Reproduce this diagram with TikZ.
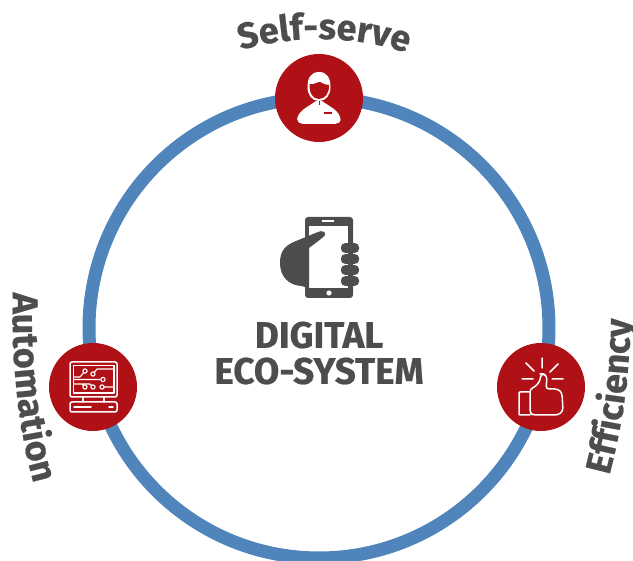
\documentclass[tikz,border=0pt]{standalone}
\usepackage{fontspec}
\usetikzlibrary{decorations.text}
\setmainfont{Fira Sans}[BoldFeatures={FakeBold=0.6}]
\definecolor{ringblue}{HTML}{4F85BA}
\definecolor{hubred}{HTML}{B01116}
\definecolor{darkgrey}{HTML}{4D4D4D}
\newcommand{\arclabel}{\bfseries\fontsize{36}{38}\selectfont\color{darkgrey}}
\tikzset{
  ring/.style={circle,draw=ringblue,line width=13pt,minimum size=460pt,inner sep=0pt},
  hub/.style={circle,fill=hubred,minimum size=88pt,inner sep=0pt},
  title/.style={align=center,text=darkgrey,font=\bfseries\fontsize{37}{36}\selectfont,inner sep=0pt},
  icon/.style={draw=white,line width=1.5pt,line cap=round,line join=round},
  pad/.style={circle,draw=white,fill=hubred,line width=1.1pt,inner sep=1.5pt},
}
\begin{document}
\begin{tikzpicture}[x=1pt,y=-1pt]
\useasboundingbox (0,0) rectangle (633,561);
\node[ring] (loop) at (319,328) {};
\node[hub] (selfserve) at (319,98) {};
\node[hub] (automation) at (93,387) {};
\node[hub] (efficiency) at (541,387) {};
\node[title] (digital) at (319,353) {DIGITAL\\ECO-SYSTEM};
% curved labels
\path[decorate,decoration={text along path,text align=center,text={|\arclabel|Self-serve}}]
  (319,328) ++(-117:289) arc (-117:-61:289);
\path[decorate,decoration={text along path,text align=center,text={|\arclabel|Automation}}]
  (13,288) .. controls (11,360) and (18,430) .. (35,488);
\path[decorate,decoration={text along path,text align=center,text={|\arclabel|Efficiency}}]
  (608,480) .. controls (622,430) and (631,370) .. (630,314);
% person
\fill[white] (319,72) .. controls (311,72) and (307.5,78) .. (307.5,87) .. controls (307.5,95) and (312,101) .. (319,101)
  .. controls (326,101) and (330.5,95) .. (330.5,87) .. controls (330.5,78) and (327,72) .. (319,72) -- cycle;
\fill[hubred] (309.5,84) .. controls (314,85) and (317,82) .. (320,82) .. controls (323,84) and (326,85) .. (329,85)
  .. controls (329.5,93) and (325,99) .. (319,99) .. controls (313,99) and (309,93) .. (309.5,84) -- cycle;
\fill[white] (297,119) .. controls (299,110) and (308,107) .. (316,101) -- (322,101)
  .. controls (330,107) and (339,110) .. (340.5,119) .. controls (341,122) and (338,124) .. (335,124)
  -- (303,124) .. controls (300,124) and (297,122) .. (297,119) -- cycle;
\fill[hubred] (324,112) rectangle (332,114.5);
\draw[hubred,line width=.8pt] (319,101) -- (319,105);
% monitor
\draw[icon,rounded corners=2pt] (70,362) rectangle (117,397);
\draw[icon,line width=1.1pt] (73.5,365.5) rectangle (114,393);
\draw[icon] (83,397) -- (83,402) (104,397) -- (104,402);
\draw[icon,rounded corners=2pt] (70,402) rectangle (117,412);
\draw[icon] (74,407) -- (91,407) (109,407) -- (113,407);
\draw[icon,line width=1.1pt] (74,377) -- (80,377) -- (85,371) (93,374) -- (97,369) -- (113,369)
  (74,379.5) -- (103,379.5) (74,384) -- (90,384) -- (93,387) (74,384) -- (82,384) -- (85,387)
  (102,387) -- (113,387);
\node[pad] at (85,371) {};
\node[pad] at (93,374) {};
\node[pad] at (103,379.5) {};
\node[pad] at (85,387) {};
\node[pad] at (93,387) {};
\node[pad] at (102,387) {};
% thumb
\draw[icon] (542,358) -- (542,368) (526,363) -- (534,371) (558,364) -- (550,372)
  (522,379) -- (533,379) (552,379) -- (563,379);
\draw[icon,rounded corners=1pt] (530,392) -- (519,392) -- (519,415) -- (530,415);
\draw[icon,rounded corners=3pt] (530,389) -- (530,413) -- (533,415) -- (558,415) -- (563,411) -- (562,393)
  -- (558,389) -- (546,389) -- (547,376) -- (543,374) -- (541,374) -- (540,381) -- (535,387) -- cycle;
% phone and hand
\fill[darkgrey,rounded corners=3pt] (305,217) rectangle (353,298);
\fill[white] (309,226) rectangle (348,288);
\fill[white] (322,220.5) rectangle (334,222);
\fill[white] (329,293) circle (2.6);
\fill[darkgrey] (309,288) -- (301,286) .. controls (288,285) and (280,276) .. (280,263)
  .. controls (280,250) and (286,245) .. (296,241) -- (318,232) .. controls (322,230) and (326,232) .. (325,235)
  .. controls (323,238) and (318,241) .. (309,248) -- cycle;
\foreach \fy in {248,259,270,281}
  \fill[darkgrey,rounded corners=4pt] (341,\fy-4.8) rectangle (359,\fy+4.8);
\end{tikzpicture}
\end{document}
